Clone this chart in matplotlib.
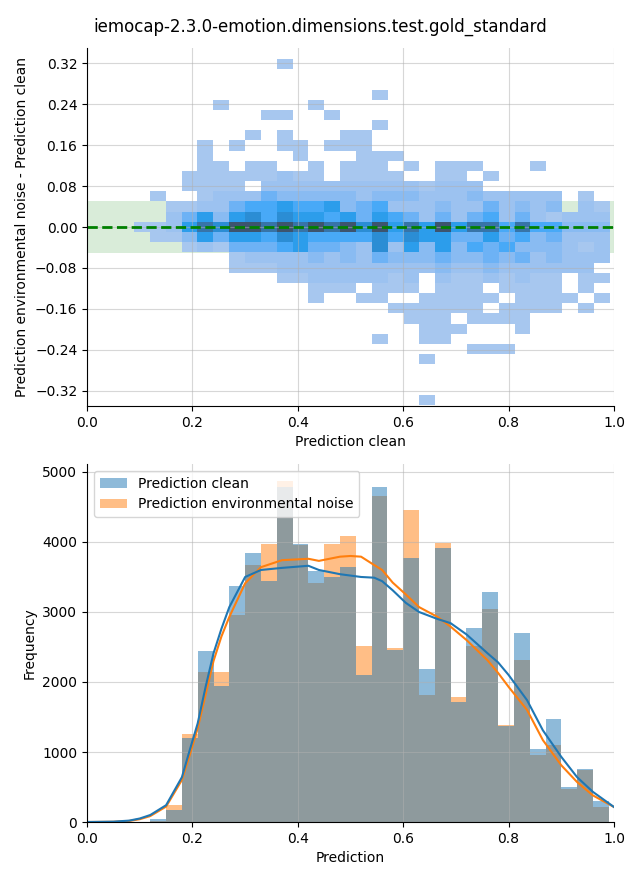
import numpy as np
import pandas as pd
import matplotlib
matplotlib.use("Agg")
import matplotlib.pyplot as plt
from matplotlib.ticker import MultipleLocator
import seaborn as sns

TITLE = "iemocap-2.3.0-emotion.dimensions.test.gold_standard"
SERIES = ["Prediction clean", "Prediction environmental noise"]

# top panel: 2D histogram (clean vs. noise - clean), grid
DIFF_X_START, DIFF_X_STEP, DIFF_X_BINS = 0.089, 0.0301, 30
DIFF_Y_START, DIFF_Y_STEP, DIFF_Y_BINS = -0.348, 0.0199, 34
# shade per cell, 0 = empty .. 9 = darkest; top row first
DIFF_LEVELS = [
    "000000000100000000000000000000",
    "000000000000000000000000000000",
    "000000000000000000000000000000",
    "000000000000000100000000000000",
    "000001000001000000000000000000",
    "000000001100100000000000000000",
    "000000000000000100000000000000",
    "000000010100011000000000000000",
    "000010100110111000000000000000",
    "000010000010001110000000000000",
    "000011011001011101011100010000",
    "000111111211011110011010000000",
    "000111102222222222122200000000",
    "010012224333332333222322222010",
    "001122455655634522232242323021",
    "002463675766564654242452421222",
    "112687998989897968696885855333",
    "011364665765555757664464534222",
    "000121444564432726363545333212",
    "000000122223232433343343423222",
    "000000111222222222232232222220",
    "000000000112222212021121211011",
    "000000000001110111011101111010",
    "000000000001001100111110111101",
    "000000000000000011111101111010",
    "000000000000000001110111100000",
    "000000000000000000111000100000",
    "000000000000000100110000000000",
    "000000000000000000000111000000",
    "000000000000000000100000000000",
    "000000000000000000000000000000",
    "000000000000000000000000000000",
    "000000000000000000000000000000",
    "000000000000000000100000000000",
]
LEVEL_COUNTS = [0, 1, 3, 6, 10, 14, 19, 25, 35, 48]
BAND = 0.05

# bottom panel: histogram counts per 0.03 bin from 0.0 to 0.99
HIST_EDGES = [round(0.03 * i, 2) for i in range(34)]
CLEAN_COUNTS = [0, 0, 0, 0, 50, 170, 1200, 2440, 1940, 3370, 3840, 3440, 4790,
                3970, 3590, 3500, 3640, 2100, 4790, 2460, 3770, 2190, 3910, 1710,
                2770, 3290, 1370, 2700, 1040, 1470, 500, 760, 300]
NOISE_COUNTS = [0, 0, 0, 0, 15, 240, 1260, 2140, 2140, 2960, 3670, 3970, 4870,
                3950, 3410, 3970, 4085, 2510, 4660, 2490, 4460, 1810, 3990, 1790,
                2510, 3040, 1390, 2310, 960, 1100, 470, 750, 215]

# density curves
KDE_X = [0.0, 0.05, 0.08, 0.10, 0.12, 0.15, 0.18, 0.195, 0.21, 0.225, 0.24, 0.255,
         0.27, 0.30, 0.33, 0.37, 0.42, 0.44, 0.48, 0.50, 0.52, 0.545, 0.56, 0.58,
         0.605, 0.63, 0.665, 0.69, 0.72, 0.76, 0.78, 0.80, 0.835, 0.865, 0.90,
         0.93, 0.96, 1.0]
CLEAN_KDE = [0, 5, 20, 50, 100, 240, 640, 1030, 1410, 1930, 2410, 2760,
             3070, 3500, 3600, 3630, 3660, 3600, 3540, 3520, 3500, 3490, 3440, 3310,
             3130, 3000, 2900, 2840, 2680, 2410, 2280, 2100, 1740, 1310, 930,
             640, 430, 214]
NOISE_KDE = [0, 3, 15, 40, 85, 220, 600, 960, 1340, 1820, 2300, 2650,
             2930, 3410, 3640, 3740, 3760, 3730, 3790, 3800, 3790, 3670, 3600, 3420,
             3250, 3070, 2930, 2790, 2600, 2310, 2130, 1930, 1600, 1170, 810,
             570, 380, 214]


def main():
    fig = plt.figure(figsize=(6.4, 8.8), dpi=100)
    ax1 = fig.add_axes([0.136, 0.5386, 0.8234, 0.4068])
    ax2 = fig.add_axes([0.136, 0.0659, 0.8234, 0.4068])

    # --- top: difference heatmap
    x_edges = DIFF_X_START + DIFF_X_STEP * np.arange(DIFF_X_BINS + 1)
    y_edges = DIFF_Y_START + DIFF_Y_STEP * np.arange(DIFF_Y_BINS + 1)
    levels = np.array([[int(c) for c in row] for row in DIFF_LEVELS[::-1]])
    counts = np.array(LEVEL_COUNTS)[levels]
    xc = (x_edges[:-1] + x_edges[1:]) / 2
    yc = (y_edges[:-1] + y_edges[1:]) / 2
    X, Y = np.meshgrid(xc, yc)
    keep = counts > 0
    ax1.axhspan(-BAND, BAND, color="green", alpha=0.15, lw=0, zorder=0)
    sns.histplot(x=X[keep], y=Y[keep], weights=counts[keep],
                 bins=[list(x_edges), list(y_edges)], ax=ax1)
    ax1.axhline(0, color="green", ls="--", lw=2)
    ax1.set_xlim(0, 1)
    ax1.set_ylim(-0.35, 0.35)
    ax1.yaxis.set_major_locator(MultipleLocator(0.08))
    ax1.set_xlabel("Prediction clean")
    ax1.set_ylabel("Prediction environmental noise - Prediction clean")

    # --- bottom: overlaid histograms + density lines
    centers = [(a + b) / 2 for a, b in zip(HIST_EDGES[:-1], HIST_EDGES[1:])]
    df = pd.concat([
        pd.DataFrame({"Prediction": centers, "count": CLEAN_COUNTS, "series": SERIES[0]}),
        pd.DataFrame({"Prediction": centers, "count": NOISE_COUNTS, "series": SERIES[1]}),
    ], ignore_index=True)
    sns.histplot(data=df, x="Prediction", weights="count", hue="series",
                 bins=HIST_EDGES, ax=ax2, linewidth=0)
    ax2.plot(KDE_X, NOISE_KDE, color="C1", lw=1.5)
    ax2.plot(KDE_X, CLEAN_KDE, color="C0", lw=1.5)
    ax2.set_xlim(0, 1)
    ax2.set_xlabel("Prediction")
    ax2.set_ylabel("Frequency")
    sns.move_legend(ax2, "upper left", title=None)

    for ax in (ax1, ax2):
        ax.grid(True, alpha=0.5)
        sns.despine(ax=ax)

    fig.suptitle(TITLE, fontsize=12, y=0.98)
    fig.savefig("out.png", dpi=100)
    plt.close(fig)


if __name__ == "__main__":
    main()
